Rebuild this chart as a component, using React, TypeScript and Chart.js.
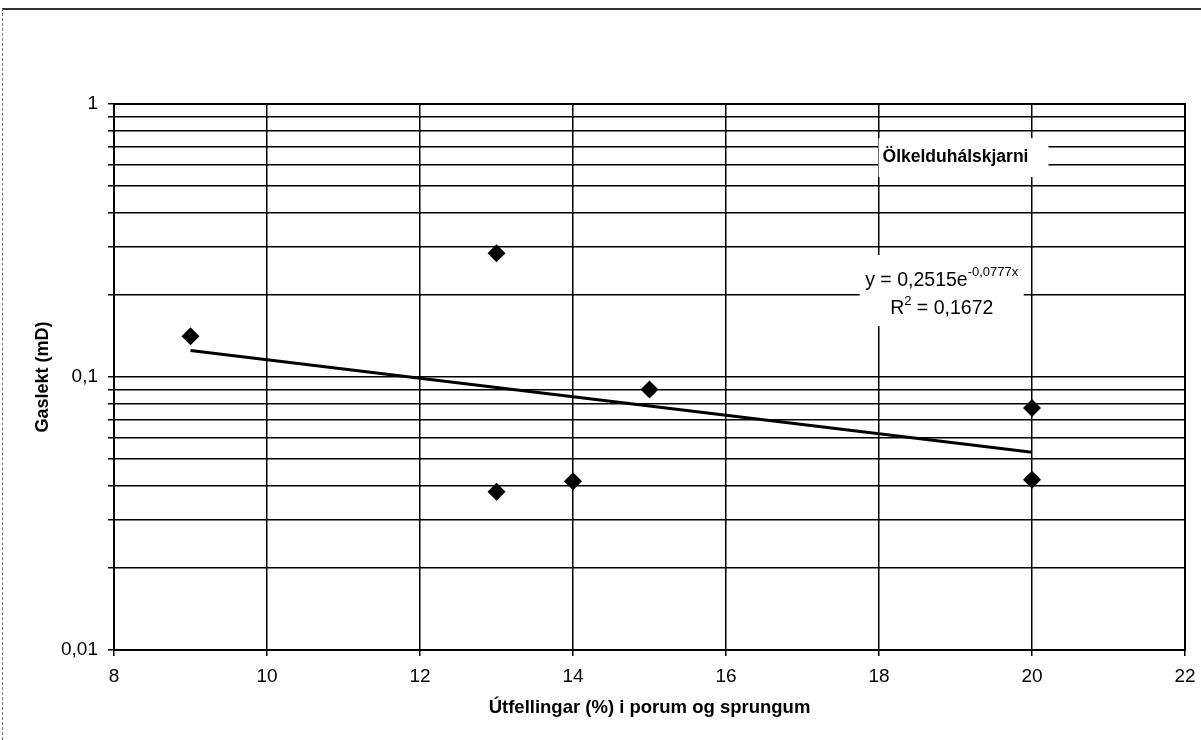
import React, { useEffect, useRef } from "react";
import { Chart, registerables } from "chart.js";

Chart.register(...registerables);

const FONT = "'Liberation Sans', Arial, Helvetica, sans-serif";

// Data
const utfellingar = [9, 13, 13, 14, 15, 20, 20];
const gaslekt = [0.141, 0.284, 0.038, 0.0415, 0.09, 0.077, 0.042];
const trendX = [9, 20];
const trendY = [0.125, 0.053];

// Axis ticks / labels
const xTickValues = [8, 10, 12, 14, 16, 18, 20, 22];
const yGridValues = [
  0.01, 0.02, 0.03, 0.04, 0.05, 0.06, 0.07, 0.08, 0.09,
  0.1, 0.2, 0.3, 0.4, 0.5, 0.6, 0.7, 0.8, 0.9, 1,
];
const yLabelledValues = [0.01, 0.1, 1];
const yTickLabels = ["0,01", "0,1", "1"];

// Texts
const seriesLabel = "Ölkelduhálskjarni";
const xTitle = "Útfellingar (%) i porum og sprungum";
const yTitle = "Gaslekt (mD)";
const eqMain = "y = 0,2515e";
const eqExp = "-0,0777x";
const r2Base = "R";
const r2Sup = "2";
const r2Rest = " = 0,1672";

const overlayPlugin = {
  id: "overlay",
  afterDatasetsDraw(chart: any) {
    const { ctx, chartArea, scales } = chart;
    const xs = scales.x;
    const ys = scales.y;
    ctx.save();

    // Series label box
    ctx.font = `bold 17.5px ${FONT}`;
    const lx = xs.getPixelForValue(19.0);
    const ly = ys.getPixelForValue(0.639);
    const lw = ctx.measureText(seriesLabel).width;
    ctx.fillStyle = "#fff";
    ctx.fillRect(lx - lw / 2 - 4, ly - 19, lw + 24, 39);
    ctx.fillStyle = "#000";
    ctx.textAlign = "center";
    ctx.textBaseline = "middle";
    ctx.fillText(seriesLabel, lx, ly);

    // Equation box
    const ex = xs.getPixelForValue(18.82);
    const b1 = ys.getPixelForValue(0.2154);
    const b2 = ys.getPixelForValue(0.17);
    ctx.fillStyle = "#fff";
    ctx.fillRect(ex - 82, b1 - 31, 164, 71);

    ctx.fillStyle = "#000";
    ctx.textAlign = "left";
    ctx.textBaseline = "alphabetic";
    const mainFont = `19.5px ${FONT}`;
    const supFont = `13px ${FONT}`;
    ctx.font = mainFont;
    const wMain = ctx.measureText(eqMain).width;
    ctx.font = supFont;
    const wExp = ctx.measureText(eqExp).width;
    let sx = ex - (wMain + wExp) / 2;
    ctx.font = mainFont;
    ctx.fillText(eqMain, sx, b1);
    ctx.font = supFont;
    ctx.fillText(eqExp, sx + wMain, b1 - 10);

    ctx.font = mainFont;
    const wR = ctx.measureText(r2Base).width;
    const wRest = ctx.measureText(r2Rest).width;
    ctx.font = supFont;
    const wS = ctx.measureText(r2Sup).width;
    sx = ex - (wR + wS + wRest) / 2;
    ctx.font = mainFont;
    ctx.fillText(r2Base, sx, b2);
    ctx.font = supFont;
    ctx.fillText(r2Sup, sx + wR, b2 - 9);
    ctx.font = mainFont;
    ctx.fillText(r2Rest, sx + wR + wS, b2);

    // Plot frame
    ctx.strokeStyle = "#000";
    ctx.lineWidth = 2;
    ctx.strokeRect(
      chartArea.left,
      chartArea.top,
      chartArea.right - chartArea.left,
      chartArea.bottom - chartArea.top
    );
    ctx.restore();
  },
};

export default function App() {
  const ref = useRef<HTMLCanvasElement>(null);

  useEffect(() => {
    const canvas = ref.current;
    if (!canvas) return;
    const chart = new Chart(canvas, {
      type: "scatter",
      data: {
        datasets: [
          {
            label: seriesLabel,
            data: utfellingar.map((x, i) => ({ x, y: gaslekt[i] })),
            pointStyle: "rectRot",
            pointRadius: 9,
            pointHoverRadius: 9,
            backgroundColor: "#000",
            borderColor: "#000",
            borderWidth: 0,
            showLine: false,
          },
          {
            label: "Trend",
            data: trendX.map((x, i) => ({ x, y: trendY[i] })),
            showLine: true,
            borderColor: "#000",
            borderWidth: 3,
            pointRadius: 0,
            pointHoverRadius: 0,
            fill: false,
          },
        ],
      },
      options: {
        animation: false,
        responsive: false,
        events: [],
        layout: { padding: { top: 104, right: 16, bottom: 0, left: 0 } },
        plugins: {
          legend: { display: false },
          tooltip: { enabled: false },
        },
        scales: {
          x: {
            type: "linear",
            min: 8,
            max: 22,
            afterBuildTicks: (scale: any) => {
              scale.ticks = xTickValues.map((v) => ({ value: v }));
            },
            afterFit: (scale: any) => {
              scale.height = 90;
              scale.paddingLeft = 0;
              scale.paddingRight = 0;
            },
            ticks: {
              autoSkip: false,
              maxRotation: 0,
              color: "#000",
              padding: 9,
              font: { family: FONT, size: 19 },
              callback: (v: any) => String(v),
            },
            grid: {
              color: "#000",
              lineWidth: 1.5,
              drawTicks: true,
              tickLength: 6,
              tickColor: "#000",
            },
            border: { display: true, color: "#000", width: 2 },
            title: {
              display: true,
              text: xTitle,
              color: "#000",
              font: { family: FONT, size: 18.5, weight: "bold" },
              padding: { top: 4, bottom: 21 },
            },
          },
          y: {
            type: "logarithmic",
            min: 0.01,
            max: 1,
            afterBuildTicks: (scale: any) => {
              scale.ticks = yGridValues.map((v) => ({ value: v }));
            },
            afterFit: (scale: any) => {
              scale.width = 114;
              scale.paddingTop = 0;
              scale.paddingBottom = 0;
            },
            ticks: {
              autoSkip: false,
              color: "#000",
              padding: 10,
              font: { family: FONT, size: 19 },
              callback: (v: any) => {
                const i = yLabelledValues.findIndex(
                  (t) => Math.abs(t - Number(v)) < 1e-9
                );
                return i >= 0 ? yTickLabels[i] : "";
              },
            },
            grid: {
              color: "#000",
              lineWidth: 1.5,
              drawTicks: true,
              tickLength: 6,
              tickColor: "#000",
            },
            border: { display: true, color: "#000", width: 2 },
            title: {
              display: true,
              text: yTitle,
              color: "#000",
              font: { family: FONT, size: 18, weight: "bold" },
              padding: { top: 32, bottom: 4 },
            },
          },
        },
      },
      plugins: [overlayPlugin],
    } as any);
    return () => chart.destroy();
  }, []);

  return (
    <div
      style={{
        position: "absolute",
        left: 0,
        top: 0,
        width: 1201,
        height: 740,
        background: "#fff",
      }}
    >
      <canvas
        ref={ref}
        width={1201}
        height={740}
        style={{ display: "block", width: 1201, height: 740 }}
      />
      <div
        style={{
          position: "absolute",
          left: 2,
          top: 8,
          width: 1199,
          height: 732,
          boxSizing: "border-box",
          borderTop: "2px solid #333",
          borderLeft: "1px dashed #777",
          pointerEvents: "none",
        }}
      />
    </div>
  );
}
